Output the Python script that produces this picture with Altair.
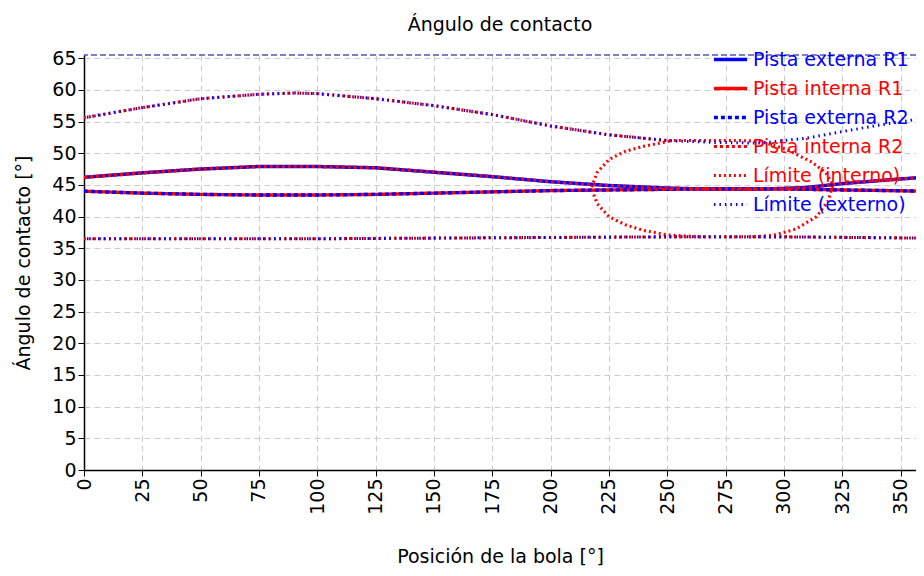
import altair as alt
import pandas as pd

# ---------------- data ----------------
series_names = ["Pista externa R1", "Pista interna R1", "Pista externa R2",
                "Pista interna R2", "Límite (interno)", "Límite (externo)"]
series_colors = ["#0000ff", "#ff0000", "#0000ff", "#ff0000", "#ff0000", "#0000ff"]

pista_x = [0, 25, 50, 75, 100, 125, 150, 175, 200, 225, 250, 270, 290, 310, 325, 345, 360]
ext_r1 = [46.2, 46.9, 47.5, 47.9, 47.9, 47.7, 47.0, 46.3, 45.5, 44.9, 44.5, 44.3, 44.3, 44.6, 45.2, 45.8, 46.2]
int_r1 = [44.0, 43.7, 43.5, 43.4, 43.4, 43.5, 43.7, 43.9, 44.1, 44.2, 44.3, 44.4, 44.4, 44.3, 44.2, 44.1, 44.0]
ext_r2 = [44.0, 43.7, 43.5, 43.4, 43.4, 43.5, 43.7, 43.9, 44.1, 44.2, 44.3, 44.4, 44.4, 44.3, 44.2, 44.1, 44.0]
int_r2 = [46.2, 46.9, 47.5, 47.9, 47.9, 47.7, 47.0, 46.3, 45.5, 44.9, 44.5, 44.3, 44.3, 44.6, 45.2, 45.8, 46.2]

lim_up_x = [0, 25, 50, 75, 90, 100, 125, 150, 175, 200, 225, 250, 270, 290, 310, 325, 340, 360]
lim_ext_up = [55.6, 57.2, 58.6, 59.3, 59.5, 59.4, 58.6, 57.5, 56.1, 54.3, 52.9, 52.0, 51.7, 51.6, 52.4, 53.4, 54.4, 55.5]
lim_low_x = [0, 50, 100, 150, 200, 250, 300, 360]
lim_ext_low = [36.5, 36.5, 36.5, 36.6, 36.7, 36.8, 36.8, 36.6]

lim_int_up_x = [0, 25, 50, 75, 90, 100, 125, 150, 175, 200, 225, 250, 265, 280, 290, 301, 312, 318, 321, 319, 314, 305, 295, 285]
lim_int_up = [55.6, 57.2, 58.6, 59.3, 59.5, 59.4, 58.6, 57.5, 56.1, 54.3, 52.9, 52.0, 52.0, 52.0, 51.9, 50.6, 48.6, 46.9, 45.0, 42.5, 40.0, 38.0, 37.0, 36.8]
lim_int_lobe_x = [251, 240, 232, 225, 220, 217.4, 220, 225, 232, 240, 250, 265]
lim_int_lobe = [51.9, 51.1, 50.3, 49.0, 47.0, 44.5, 42.0, 40.0, 38.7, 37.8, 37.1, 36.8]
lim_int_low = [36.5, 36.5, 36.5, 36.6, 36.7, 36.8, 36.8, 36.6]

top_limit = [65.5]

x_ticks = list(range(0, 351, 25))
y_ticks = list(range(0, 66, 5))


def rows(series, seg, xs, ys):
    return [{"series": series, "seg": seg, "idx": i, "x": a, "y": b}
            for i, (a, b) in enumerate(zip(xs, ys))]


r1 = pd.DataFrame(rows(series_names[0], "e1", pista_x, ext_r1)
                  + rows(series_names[1], "i1", pista_x, int_r1))
r2 = pd.DataFrame(rows(series_names[2], "e2", pista_x, ext_r2)
                  + rows(series_names[3], "i2", pista_x, int_r2))
lim_int = pd.DataFrame(rows(series_names[4], "iu", lim_int_up_x, lim_int_up)
                       + rows(series_names[4], "il", lim_int_lobe_x, lim_int_lobe)
                       + rows(series_names[4], "ilow", lim_low_x, lim_int_low))
lim_ext = pd.DataFrame(rows(series_names[5], "eu", lim_up_x, lim_ext_up)
                       + rows(series_names[5], "elow", lim_low_x, lim_ext_low))
top_df = pd.DataFrame({"y": top_limit})

FONT = "DejaVu Sans"

# the visible window ends a little before 360 (the reference is cut at the right edge)
x_enc = alt.X("x:Q", title="Posición de la bola [°]",
              scale=alt.Scale(domain=[0, 356.6], nice=False, zero=False),
              axis=alt.Axis(values=x_ticks, labelAngle=-90, titlePadding=33, labelOverlap=False))
y_enc = alt.Y("y:Q", title="Ángulo de contacto [°]",
              scale=alt.Scale(domain=[0, 65.5], nice=False),
              axis=alt.Axis(values=y_ticks, titlePadding=18, labelOverlap=False))

legend = alt.Legend(
    title=None, orient="none", legendX=628, legendY=-14,
    labelFont=FONT, labelFontSize=19, rowPadding=0, labelOffset=4,
    symbolSize=1100, symbolType="stroke",
    labelLimit=300,
    labelColor=alt.ExprRef("scale('color', datum.value)"),
)

color_enc = alt.Color("series:N", scale=alt.Scale(domain=series_names, range=series_colors),
                      legend=legend, sort=series_names)
dash_enc = alt.StrokeDash("series:N", scale=alt.Scale(
    domain=series_names,
    range=[[1, 0], [1, 0], [4, 3], [3, 3], [2, 3], [1.5, 4]]), sort=series_names)
width_enc = alt.StrokeWidth("series:N", scale=alt.Scale(
    domain=series_names, range=[3.5, 3, 3, 3, 1.1, 1.1]), sort=series_names)


def line_layer(df, **mark_kw):
    return alt.Chart(df).mark_line(**mark_kw).encode(
        x=x_enc, y=y_enc, color=color_enc, strokeDash=dash_enc,
        strokeWidth=width_enc, detail="seg:N", order="idx:Q")


top_rule = alt.Chart(top_df).mark_rule(color="#00008b", strokeDash=[6, 3], strokeWidth=1.2).encode(
    y=y_enc)

chart = alt.layer(
    line_layer(r1),
    line_layer(r2),
    line_layer(lim_int),
    line_layer(lim_ext, strokeDashOffset=2.5),
    top_rule,
).properties(
    width=832, height=415,
    title=alt.TitleParams("Ángulo de contacto", font=FONT, fontSize=19, fontWeight="normal",
                          color="black", anchor="middle", offset=6),
    autosize=alt.AutoSizeParams(type="none"),
    padding={"left": 76, "top": 47, "right": 0, "bottom": 98},
).configure_axis(
    labelFont=FONT, labelFontSize=19, labelColor="black",
    titleFont=FONT, titleFontSize=19, titleFontWeight="normal", titleColor="black",
    domainColor="black", domainWidth=1.5, tickColor="black", tickSize=6, labelPadding=2,
    gridColor="#cccccc", gridDash=[6, 4], gridWidth=1,
).configure_view(stroke=None)

chart.save("out.html", embed_options={"renderer": "svg", "actions": False})
